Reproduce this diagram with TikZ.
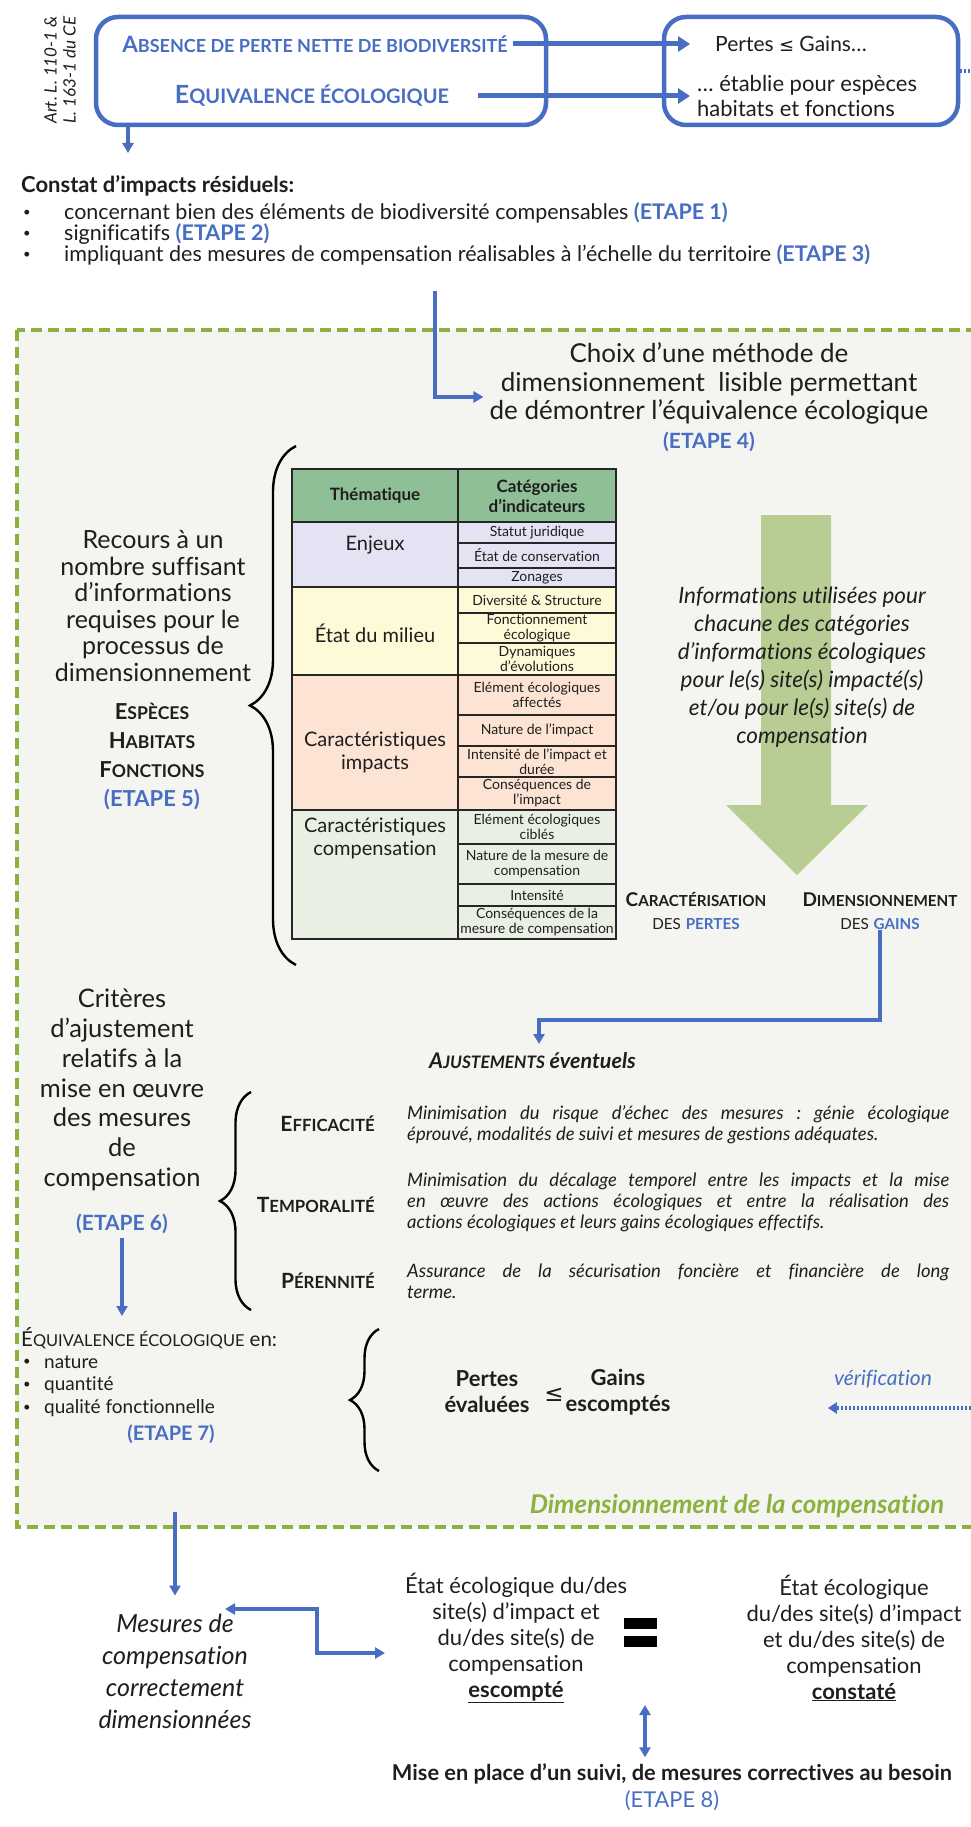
\documentclass[tikz,border=0pt]{standalone}
\usepackage{fontspec}
\setmainfont{Lato}[Ligatures=NoCommon]
\newfontfamily\symf{DejaVu Sans}
\usetikzlibrary{arrows.meta,decorations.pathreplacing,calc}
\definecolor{myblue}{HTML}{486EC4}
\definecolor{dashgreen}{HTML}{8DB13F}
\definecolor{bggreen}{HTML}{F4F5F0}
\definecolor{bigarrow}{HTML}{B8CD93}
\definecolor{thead}{HTML}{8FBF97}
\definecolor{tenj}{HTML}{E3E3F3}
\definecolor{tetat}{HTML}{FEF9D7}
\definecolor{timp}{HTML}{FCE3D3}
\definecolor{tcomp}{HTML}{EAEFE3}
\definecolor{txt}{HTML}{1E1E1E}
\makeatletter
% fake small capitals: first argument full size, second at 80%
\newcommand\fsc[2]{#1{\edef\fsc@s{\fpeval{0.8*\f@size}}\fontsize{\fsc@s}{\f@baselineskip}\selectfont #2}}
\makeatother
\newcommand\fs[2]{\fontsize{#1}{#2}\selectfont}
\newcommand\etape[1]{{\bfseries\color{myblue}(ETAPE #1)}}
\frenchspacing
\begin{document}
\begin{tikzpicture}[x=1pt,y=-1pt,
  every node/.style={text=txt, inner sep=0pt},
  topbox/.style={draw=myblue, line width=4.5pt, rounded corners=22pt},
  toparrow/.style={draw=myblue, line width=5pt, -{Triangle[length=12pt,width=15pt]}},
  conn/.style={draw=myblue, line width=3.2pt, -{Triangle[length=10pt,width=11pt]}},
  dconn/.style={draw=myblue, line width=3.2pt, {Triangle[length=10pt,width=11pt]}-{Triangle[length=10pt,width=11pt]}},
  dots/.style={draw=myblue, line width=3.5pt, dash pattern=on 2pt off 2pt},
  bigbrace/.style={decorate, decoration={brace, amplitude=#1}, line width=2.4pt, draw=black},
  tline/.style={draw=black!85, line width=1.5pt},
  tcell/.style={align=center, font=\fs{14}{15}},
  ttheme/.style={align=center, font=\fs{20}{23}},
  bul/.style={font=\fs{13}{16}},
]
\clip (0,0) rectangle (971,1827);
\fill[white] (0,0) rectangle (971,1827);

% ---------- principles ----------
\node[topbox, minimum width=450pt, minimum height=108pt] (lbox) at (321,71) {};
\node[topbox, minimum width=294pt, minimum height=108pt] (rbox) at (811,71) {};
\node[rotate=90, align=center, font={\fs{17}{19}\itshape}] (art) at (60,70) {Art. L. 110-1 \&\\L. 163-1 du CE};
\node[font={\fs{22.5}{26}\bfseries}] (abs) at (315,44) {\color{myblue}\fsc{A}{BSENCE DE PERTE NETTE DE BIODIVERSITÉ}};
\node[font={\fs{25}{28}\bfseries}] (equi) at (312,96) {\color{myblue}\fsc{E}{QUIVALENCE ÉCOLOGIQUE}};
\node[anchor=west, font=\fs{21}{24}] (pg) at (715,44) {Pertes {\symf\fs{18}{24}≤} Gains…};
\node[anchor=west, align=left, font=\fs{22}{24.5}] (etab) at (697,96) {… établie pour espèces\\habitats et fonctions};
\draw[toparrow] ([xshift=5pt]abs.east) -- ([xshift=-25pt]pg.west);
\draw[toparrow] ([xshift=29pt]equi.east) -- ([xshift=-7pt]etab.west |- equi.east);
\draw[dots] (rbox.east) -- ++(20,0);
\coordinate (ctip) at (128,153);
\draw[conn] (lbox.south -| ctip) -- (ctip);

% ---------- residual impacts ----------
\node[anchor=west, font={\fs{22}{24}\bfseries}] (constat) at (21,186) {Constat d’impacts résiduels:};
\foreach \y/\n in {213/1,234/2,255/3} \node[bul] (dot\n) at (27,\y) {•};
\node[anchor=west, font=\fs{21.5}{24}] (b1) at (64,213) {concernant bien des éléments de biodiversité compensables \etape{1}};
\node[anchor=west, font=\fs{21.5}{24}] (b2) at (64,234) {significatifs \etape{2}};
\node[anchor=west, font=\fs{21.5}{24}] (b3) at (64,255) {impliquant des mesures de compensation réalisables à l’échelle du territoire \etape{3}};

% ---------- sizing frame ----------
\draw[dashgreen, fill=bggreen, line width=4pt, dash pattern=on 11pt off 6pt] (17,330) rectangle (1000,1527);

\node[align=center, font=\fs{26}{28.5}] (choix) at (709,397) {Choix d’une méthode de\\dimensionnement\ \ lisible permettant\\de démontrer l’équivalence écologique\\{\fs{21}{26}\etape{4}}};
\coordinate (cstart) at (435,291);
\draw[conn] (cstart) |- ([xshift=-6pt]choix.west);

% big arrow behind the information text
\fill[bigarrow] (761,515) -- (831,515) -- (831,805) -- (868,805) -- (797,875) -- (726,805) -- (761,805) -- cycle;
\node[align=center, font={\fs{22.5}{28}\itshape}] (info) at (802,667) {Informations utilisées pour\\chacune des catégories\\d’informations écologiques\\pour le(s) site(s) impacté(s)\\et/ou pour le(s) site(s) de\\compensation};
\node[align=center, font=\fs{19}{23}] (pertes) at (696,911) {{\bfseries\fsc{C}{ARACTÉRISATION}}\\\fsc{}{DES} {\color{myblue}\bfseries\fsc{}{PERTES}}};
\node[align=center, font=\fs{19}{23}] (gains) at (880,911) {{\bfseries\fsc{D}{IMENSIONNEMENT}}\\\fsc{}{DES} {\color{myblue}\bfseries\fsc{}{GAINS}}};

% ---------- indicator table ----------
\fill[thead] (292,469) rectangle (616,522);
\fill[tenj] (292,522) rectangle (616,587);
\fill[tetat] (292,587) rectangle (616,675);
\fill[timp] (292,675) rectangle (616,810);
\fill[tcomp] (292,810) rectangle (616,939);
\node[align=center, font={\fs{17}{20}\bfseries}] (hthem) at (375,496) {Thématique};
\node[align=center, font={\fs{17}{20}\bfseries}] (hcat) at (537,496) {Catégories\\d’indicateurs};
\node[ttheme] (tenjeux) at (375,545) {Enjeux};
\node[ttheme] (tmilieu) at (375,633) {État du milieu};
\node[ttheme] (timpacts) at (375,752) {Caractéristiques\\impacts};
\node[ttheme] (tcompens) at (375,838) {Caractéristiques\\compensation};
\node[tcell] (c1) at (537,532.5) {Statut juridique};
\node[tcell] (c2) at (537,555.5) {État de conservation};
\node[tcell] (c3) at (537,577.5) {Zonages};
\node[tcell] (c4) at (537,600) {Diversité \& Structure};
\node[tcell] (c5) at (537,628) {Fonctionnement\\écologique};
\node[tcell] (c6) at (537,659) {Dynamiques\\d’évolutions};
\node[tcell] (c7) at (537,695) {Elément écologiques\\affectés};
\node[tcell] (c8) at (537,730.5) {Nature de l’impact};
\node[tcell] (c9) at (537,761.5) {Intensité de l’impact et\\durée};
\node[tcell] (c10) at (537,793.5) {Conséquences de\\l’impact};
\node[tcell] (c11) at (537,827) {Elément écologiques\\ciblés};
\node[tcell] (c12) at (537,864) {Nature de la mesure de\\compensation};
\node[tcell] (c13) at (537,895) {Intensité};
\node[tcell] (c14) at (537,922.5) {Conséquences de la\\mesure de compensation};
\draw[tline] (292,469) rectangle (616,939);
\draw[tline] (458,469) -- (458,939);
\foreach \y in {522,587,675,810} \draw[tline] (292,\y) -- (616,\y);
\foreach \y in {543,568,613,643,715,746,777,844,884,906} \draw[tline] (458,\y) -- (616,\y);

\draw[bigbrace=46pt] (296,965) -- (296,446);
\node[align=center, font=\fs{25}{26.5}] (recours) at (153,606) {Recours à un\\nombre suffisant\\d’informations\\requises pour le\\processus de\\dimensionnement};
\node[align=center, font={\fs{22}{29}\bfseries}] (especes) at (152,757) {\fsc{E}{SPÈCES}\\\fsc{H}{ABITATS}\\\fsc{F}{ONCTIONS}\\{\color{myblue}(ETAPE 5)}};

% ---------- adjustments ----------
\coordinate (knee) at (539,1020);
\coordinate (ajtip) at (539,1044);
\draw[conn] (gains.south) |- (knee) -- (ajtip);
\node[anchor=west, font={\fs{21.5}{24}\bfseries\itshape}] (aj) at (429,1061) {\fsc{A}{JUSTEMENTS} éventuels};

\node[align=center, font=\fs{25.5}{29.8}] (crit) at (122,1090) {Critères\\d’ajustement\\relatifs à la\\mise en œuvre\\des mesures\\de\\compensation};
\node[font=\fs{21}{24}] (e6) at (122,1224) {\etape{6}};
\coordinate (e7tip) at (122,1316);
\draw[conn] ([yshift=-4pt]e6.south) -- (e7tip);

\draw[bigbrace=31pt] (251,1310) -- (251,1092);
\node[anchor=east, font={\fs{21}{24}\bfseries}] (eff) at (375,1124) {\fsc{E}{FFICACITÉ}};
\node[anchor=east, font={\fs{21}{24}\bfseries}] (tem) at (375,1205) {\fsc{T}{EMPORALITÉ}};
\node[anchor=east, font={\fs{21}{24}\bfseries}] (per) at (375,1281) {\fsc{P}{ÉRENNITÉ}};
\node[anchor=west, text width=542pt, align=justify, font={\fs{18.5}{21}\itshape}] (deff) at (407,1125) {Minimisation du risque d’échec des mesures : génie écologique\linebreak éprouvé, modalités de suivi et mesures de gestions adéquates.};
\node[anchor=west, text width=542pt, align=justify, font={\fs{18.5}{21}\itshape}] (dtem) at (407,1202) {Minimisation du décalage temporel entre les impacts et la mise\linebreak en œuvre des actions écologiques et entre la réalisation des\linebreak actions écologiques et leurs gains écologiques effectifs.};
\node[anchor=west, text width=542pt, align=justify, font={\fs{18.5}{21}\itshape}] (dper) at (407,1281) {Assurance de la sécurisation foncière et financière de long\linebreak terme.};

% ---------- ecological equivalence ----------
\node[anchor=west, font=\fs{20.5}{24}] (eqen) at (21,1338) {\fsc{É}{QUIVALENCE ÉCOLOGIQUE} en:};
\foreach \y/\n in {1362/1,1385/2,1408/3} \node[bul] (qd\n) at (27,\y) {•};
\node[anchor=west, font=\fs{19}{23}] (q1) at (44,1362) {nature};
\node[anchor=west, font=\fs{19}{23}] (q2) at (44,1385) {quantité};
\node[anchor=west, font=\fs{19}{23}] (q3) at (44,1408) {qualité fonctionnelle};
\node[font=\fs{20}{24}] (e7) at (171,1434) {\etape{7}};

\draw[bigbrace=29pt] (379,1471) -- (379,1329);
\node[align=center, font={\fs{22}{26}\bfseries}] (pe) at (487,1392) {Pertes\\évaluées};
\node[font={\fs{23}{26}\symf}] (le) at (554,1395) {≤};
\node[align=center, font={\fs{22}{26}\bfseries}] (ge) at (618,1392) {Gains\\escomptés};
\node[font={\fs{21}{24}\itshape}] (verif) at (883,1379) {\color{myblue}vérification};
\coordinate (vstart) at (975,1408);
\draw[dots, -{Triangle[length=9pt,width=11pt]}] (vstart) -- ([xshift=-6pt]verif.west |- vstart);
\node[font={\fs{25.8}{28}\bfseries\itshape}] (dimc) at (737,1506) {\color{dashgreen}Dimensionnement de la compensation};

% ---------- outcome and follow-up ----------
\node[align=center, font={\fs{25}{32}\itshape}] (mes) at (175,1671) {Mesures de\\compensation\\correctement\\dimensionnées};
\coordinate (mstart) at (175,1512);
\draw[conn] (mstart) -- ([yshift=18pt]mes.north);
\node[align=center, font=\fs{22}{26}] (esc) at (516,1638) {État écologique du/des\\site(s) d’impact et\\du/des site(s) de\\compensation\\{\bfseries\underline{escompté}}};
\node[align=center, font=\fs{22}{26}] (cons) at (854,1638) {État écologique\\du/des site(s) d’impact\\et du/des site(s) de\\compensation\\{\bfseries\underline{constaté}}};
\fill[black] (624,1618) rectangle (657,1629);
\fill[black] (624,1636) rectangle (657,1647);
\coordinate (la) at (225,1609);
\coordinate (ra) at (385,1653);
\draw[dconn] (la) -| (317,1631) |- (ra);
\node[align=center, font={\fs{21.8}{27}\bfseries}] (suivi) at (672,1787) {Mise en place d’un suivi, de mesures correctives au besoin\\{\mdseries\color{myblue}(ETAPE 8)}};
\coordinate (va) at (645,1705);
\draw[dconn] (va) -- ([yshift=6pt]suivi.north -| va);
\end{tikzpicture}
\end{document}
